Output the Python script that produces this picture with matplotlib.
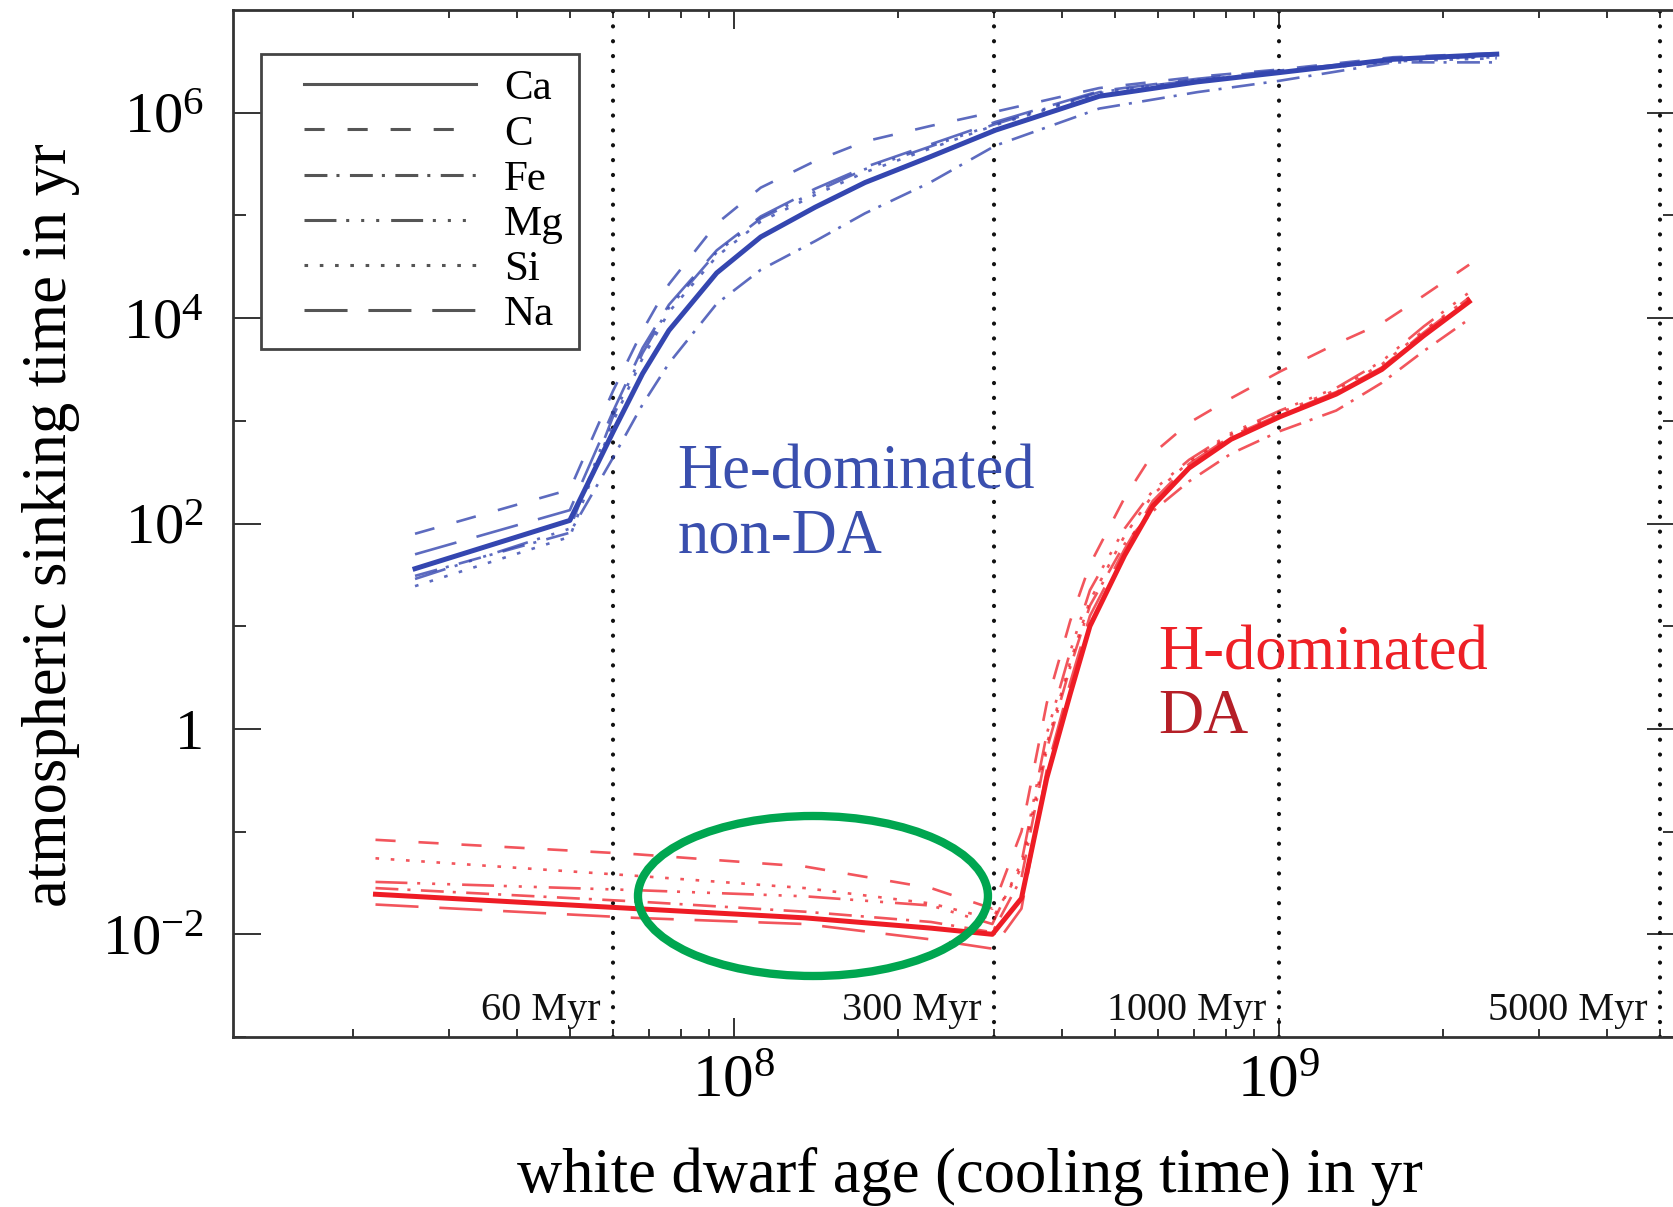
import numpy as np
import matplotlib
matplotlib.use("Agg")
import matplotlib.pyplot as plt
from matplotlib.lines import Line2D
from matplotlib.patches import Ellipse
from matplotlib.legend_handler import HandlerLine2D
from matplotlib.ticker import FixedLocator, FixedFormatter, LogLocator, NullFormatter

plt.rcParams['font.family'] = ['Liberation Serif', 'DejaVu Serif']
plt.rcParams['mathtext.fontset'] = 'custom'
plt.rcParams['mathtext.rm'] = 'Liberation Serif'
plt.rcParams['mathtext.it'] = 'Liberation Serif:italic'
plt.rcParams['lines.scale_dashes'] = False

# ---- data (ages in Myr, sinking times as log10 of yr) ----
elements = ['Ca', 'C', 'Fe', 'Mg', 'Si', 'Na']

# He-dominated (non-DA) white dwarfs
he_age_myr = [26, 50, 60, 68, 76, 93, 112, 141, 174, 229, 302, 468, 708, 1000, 1620, 2510]
he_ca = [1.56, 2.03, 2.89, 3.46, 3.88, 4.44, 4.79, 5.08, 5.32, 5.57, 5.83, 6.16, 6.30, 6.39, 6.52, 6.57]
he_c  = [1.90, 2.33, 3.29, 3.88, 4.33, 4.92, 5.27, 5.53, 5.72, 5.87, 6.01, 6.24, 6.35, 6.42, 6.54, 6.58]
he_fe = [1.49, 1.91, 2.64, 3.16, 3.56, 4.14, 4.47, 4.75, 5.02, 5.32, 5.68, 6.04, 6.20, 6.31, 6.49, 6.49]
he_mg = [1.46, 1.95, 3.04, 3.66, 4.10, 4.64, 4.97, 5.23, 5.45, 5.67, 5.89, 6.20, 6.32, 6.39, 6.52, 6.54]
he_si = [1.39, 1.87, 2.99, 3.61, 4.06, 4.60, 4.94, 5.20, 5.42, 5.65, 5.88, 6.19, 6.32, 6.39, 6.50, 6.53]
he_na = [1.70, 2.13, 3.09, 3.71, 4.13, 4.66, 4.99, 5.26, 5.47, 5.69, 5.91, 6.21, 6.33, 6.41, 6.52, 6.55]

# H-dominated (DA) white dwarfs
h_age_myr = [22, 66, 135, 230, 298, 337, 375, 414, 450, 521, 587, 684, 817, 1005, 1274, 1545, 1845, 2234]
h_ca = [-1.61, -1.75, -1.84, -1.94, -2.00, -1.65, -0.48, 0.34, 1.00, 1.69, 2.17, 2.54, 2.82, 3.04, 3.26, 3.50, 3.83, 4.16]
h_c  = [-1.08, -1.22, -1.34, -1.55, -1.75, -1.00, 0.25, 1.05, 1.60, 2.25, 2.68, 2.98, 3.22, 3.48, 3.75, 3.95, 4.22, 4.52]
h_fe = [-1.55, -1.68, -1.78, -1.88, -1.98, -1.45, -0.20, 0.60, 1.20, 1.80, 2.12, 2.41, 2.68, 2.90, 3.10, 3.37, 3.68, 3.99]
h_mg = [-1.49, -1.57, -1.63, -1.72, -1.90, -1.30, -0.05, 0.75, 1.35, 1.95, 2.32, 2.62, 2.88, 3.10, 3.32, 3.58, 3.92, 4.25]
h_si = [-1.26, -1.43, -1.55, -1.70, -1.85, -1.35, -0.15, 0.65, 1.25, 1.88, 2.28, 2.60, 2.86, 3.08, 3.30, 3.55, 3.88, 4.20]
h_na = [-1.71, -1.84, -1.90, -2.05, -2.14, -1.75, -0.40, 0.45, 1.10, 1.75, 2.22, 2.58, 2.85, 3.06, 3.28, 3.52, 3.86, 4.20]

# reference ages (vertical dotted lines)
marker_ages_myr = [60, 300, 1000, 5000]
marker_labels = ['60 Myr', '300 Myr', '1000 Myr', '5000 Myr']

y_ticks = [1e-2, 1, 1e2, 1e4, 1e6]
y_tick_labels = ['$10^{-2}$', '1', '$10^{2}$', '$10^{4}$', '$10^{6}$']
x_ticks = [1e8, 1e9]
x_tick_labels = ['$10^{8}$', '$10^{9}$']

# ---- styles ----
styles = {
    'Ca': '-',
    'C': (0, (14.5, 16.5)),
    'Fe': (0, (16.5, 6.5, 2.2, 7.5)),
    'Mg': (0, (23, 7, 2.2, 8.6, 2.2, 8.6, 2.2, 8.6)),
    'Si': (0, (2.6, 8.4)),
    'Na': (0, (31, 15)),
}
he_series = dict(zip(elements, [he_ca, he_c, he_fe, he_mg, he_si, he_na]))
h_series = dict(zip(elements, [h_ca, h_c, h_fe, h_mg, h_si, h_na]))
blue = '#3446b0'
red = '#ee1c25'


class PaddedLine(HandlerLine2D):
    # leave some blank space before the legend line
    def create_artists(self, legend, orig_handle, xdescent, ydescent, width, height, fontsize, trans):
        pad = 0.65 * fontsize
        arts = super().create_artists(legend, orig_handle, xdescent, ydescent,
                                      width - pad, height, fontsize, trans)
        for a in arts:
            a.set_xdata(np.asarray(a.get_xdata()) + pad)
        return arts


fig = plt.figure(figsize=(16.73, 12.07), dpi=100)
ax = fig.add_axes([233 / 1673, 1 - 1037 / 1207, 1442 / 1673, 1027 / 1207])
ax.set_xscale('log')
ax.set_yscale('log')
ax.set_xlim(1.205e7, 5.33e9)
ax.set_ylim(1e-3, 1e7)

he_age = np.array(he_age_myr) * 1e6
h_age = np.array(h_age_myr) * 1e6
for el in elements[::-1]:
    main = el == 'Ca'
    ax.plot(he_age, 10 ** np.array(he_series[el]), color=blue, ls=styles[el],
            lw=3.6 if main else 1.9, alpha=1 if main else 0.8, zorder=4 if main else 3)
    ax.plot(h_age, 10 ** np.array(h_series[el]), color=red, ls=styles[el],
            lw=3.6 if main else 1.9, alpha=1 if main else 0.75, zorder=4 if main else 3)

for age, lab in zip(marker_ages_myr, marker_labels):
    ax.axvline(age * 1e6, color='#111111', lw=3.0, ls=(0, (0.1, 10.6)),
               dash_capstyle='round', zorder=2)
    ax.annotate(lab, xy=(age * 1e6, 0.0166), xycoords=('data', 'axes fraction'),
                xytext=(-9, 0), textcoords='offset points', ha='right', va='baseline',
                fontsize=29, color='#111111')

# region labels
ax.text(0.3082, 0.534, 'He-dominated', transform=ax.transAxes, fontsize=45, color='#3a4fae', va='baseline')
ax.text(0.3082, 0.472, 'non-DA', transform=ax.transAxes, fontsize=45, color='#3a4fae', va='baseline')
ax.text(0.6415, 0.358, 'H-dominated', transform=ax.transAxes, fontsize=45, color='#ee2026', va='baseline')
ax.text(0.6415, 0.296, 'DA', transform=ax.transAxes, fontsize=45, color='#b51f27', va='baseline')

# highlight ellipse
ax.add_patch(Ellipse((0.4022, 0.1373), 0.2427, 0.1558, transform=ax.transAxes,
                     fill=False, edgecolor='#00a650', lw=6, zorder=6))

# ticks
ax.yaxis.set_major_locator(FixedLocator(y_ticks))
ax.yaxis.set_major_formatter(FixedFormatter(y_tick_labels))
ax.yaxis.set_minor_locator(FixedLocator([1e-3, 1e-1, 1e1, 1e3, 1e5]))
ax.yaxis.set_minor_formatter(NullFormatter())
ax.xaxis.set_major_locator(FixedLocator(x_ticks))
ax.xaxis.set_major_formatter(FixedFormatter(x_tick_labels))
ax.xaxis.set_minor_locator(LogLocator(base=10, subs=np.arange(2, 10)))
ax.xaxis.set_minor_formatter(NullFormatter())
ax.tick_params(which='both', direction='in', top=True, right=True, color='#333333', width=1.4)
ax.tick_params(axis='y', which='major', length=20, pad=21, labelsize=42)
ax.tick_params(axis='y', which='minor', length=9)
ax.tick_params(axis='x', which='major', length=14, pad=12, labelsize=44)
ax.tick_params(axis='x', which='minor', length=6)
for sp in ax.spines.values():
    sp.set_linewidth(2)
    sp.set_color('#333333')

ax.set_xlabel('white dwarf age (cooling time) in yr', fontsize=45, va='baseline')
ax.xaxis.set_label_coords(0.511, -0.151)
ax.set_ylabel('atmospheric sinking time in yr', fontsize=45, va='center')
ax.yaxis.set_label_coords(-0.126, 0.4985)

# legend
handles = [Line2D([], [], color='#555555', lw=2.2, ls=styles[el]) for el in elements]
leg = ax.legend(handles, elements, loc='upper left', bbox_to_anchor=(0.0197, 0.957),
                borderaxespad=0, fontsize=31, handlelength=4.63, handletextpad=0.65,
                labelspacing=0.14, borderpad=0.35, fancybox=False, framealpha=1,
                handler_map={Line2D: PaddedLine()})
leg.get_frame().set_edgecolor('#444444')
leg.get_frame().set_linewidth(2)

fig.savefig('out.png', dpi=100)
